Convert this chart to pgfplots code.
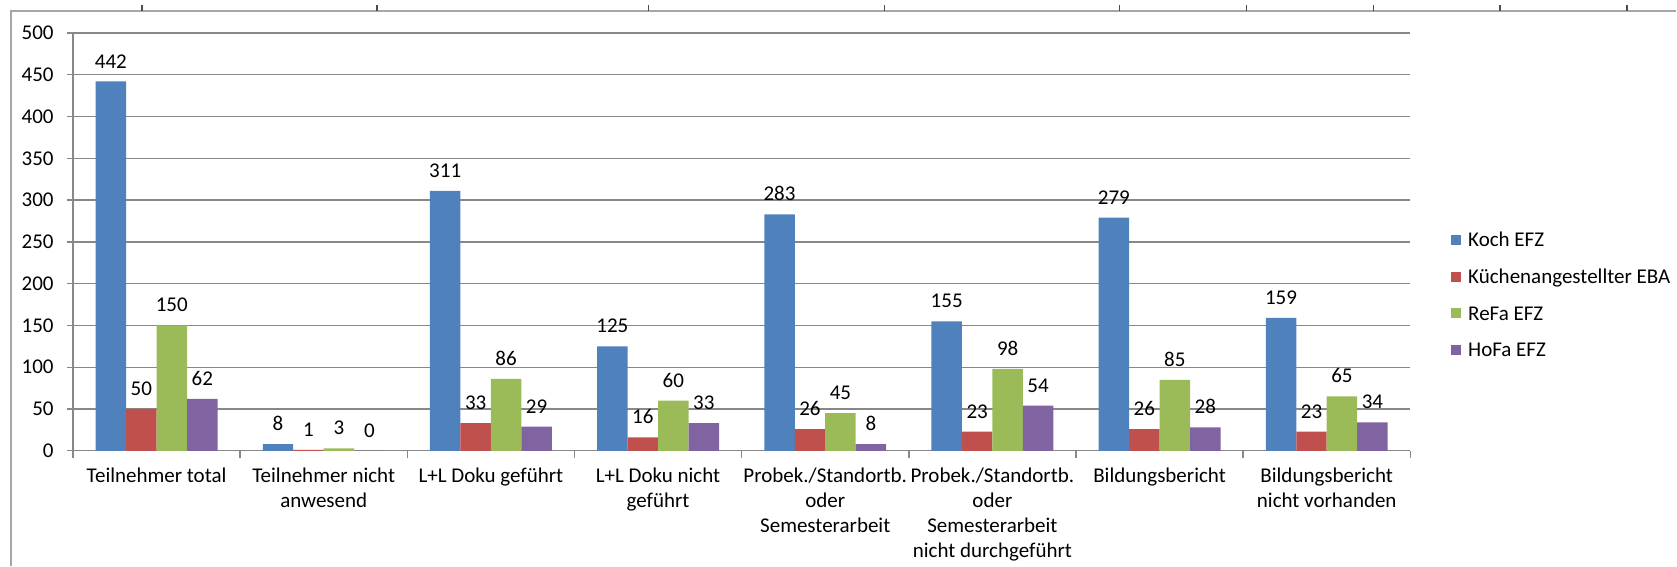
\documentclass[border=0pt]{standalone}
\usepackage{pgfplots}
\pgfplotsset{compat=1.18}
\usepackage{fontspec}
\setmainfont{Carlito}
\definecolor{cblue}{HTML}{4F81BD}
\definecolor{cred}{HTML}{C0504D}
\definecolor{cgreen}{HTML}{9BBB59}
\definecolor{cpurple}{HTML}{8064A2}
\definecolor{axgray}{HTML}{888888}
\definecolor{framegray}{HTML}{A6A6A6}
\begin{document}
\fontsize{10.5}{12.5}\selectfont
\begin{tikzpicture}
\path (0,0) rectangle (838.5pt,283pt);
\draw[framegray, line width=0.8pt] (5.5pt,0) -- (5.5pt,277.5pt) -- (838.5pt,277.5pt);
\foreach \xx in {71,188.5,324.5,442.5,560,623.5,687,750.5,814}
  \draw[black!70, line width=0.8pt] (\xx pt,277.5pt) -- (\xx pt,280.5pt);
\begin{axis}[
  at={(36.5pt,57.5pt)}, anchor=south west,
  scale only axis, width=669pt, height=209pt,
  ybar=0pt, bar width=0.1823,
  xmin=-0.5, xmax=7.5, ymin=0, ymax=500,
  enlargelimits=false,
  axis lines*=left,
  axis line style={axgray, line width=0.7pt},
  ymajorgrids, grid style={axgray, line width=0.7pt},
  ytick={0,50,...,500},
  xtick={0,...,7},
  xticklabels={
    Teilnehmer total,
    {Teilnehmer nicht\\anwesend},
    L+L Doku geführt,
    {L+L Doku nicht\\geführt},
    {Probek./Standortb.\\oder\\Semesterarbeit},
    {Probek./Standortb.\\oder\\Semesterarbeit\\nicht durchgeführt},
    Bildungsbericht,
    {Bildungsbericht\\nicht vorhanden}},
  minor xtick={-0.5,0.5,...,7.5},
  tick align=outside,
  major tick length=3pt, minor tick length=3.5pt,
  tick style={axgray, line width=0.7pt},
  major x tick style={draw=none},
  xticklabel style={align=center, inner sep=0pt, font=\fontsize{10.5}{12.5}\selectfont, yshift=-5.3pt},
  yticklabel style={font=\fontsize{10.5}{12.5}\selectfont, xshift=-3pt},
  /pgf/number format/assume math mode=true,
  nodes near coords,
  every node near coord/.append style={font=\fontsize{10.5}{12.5}\selectfont, black, yshift=3pt},
  legend style={at={(1.0303,0.371)}, anchor=west, draw=none, fill=none,
    inner sep=0pt, row sep=9.9pt, column sep=3.5pt,
    nodes={inner sep=0pt, anchor=base west, font=\fontsize{10.5}{12.5}\selectfont}},
  legend cell align=left,
  legend image code/.code={\fill[#1, draw=none] (0pt,0.9pt) rectangle (5pt,5.9pt);},
]
\addplot[fill=cblue, draw=none] coordinates {(0,442) (1,8) (2,311) (3,125) (4,283) (5,155) (6,279) (7,159)};
\addplot[fill=cred, draw=none] coordinates {(0,50) (1,1) (2,33) (3,16) (4,26) (5,23) (6,26) (7,23)};
\addplot[fill=cgreen, draw=none] coordinates {(0,150) (1,3) (2,86) (3,60) (4,45) (5,98) (6,85) (7,65)};
\addplot[fill=cpurple, draw=none] coordinates {(0,62) (1,0) (2,29) (3,33) (4,8) (5,54) (6,28) (7,34)};
\legend{Koch EFZ, Küchenangestellter EBA, ReFa EFZ, HoFa EFZ}
\end{axis}
\end{tikzpicture}
\end{document}
